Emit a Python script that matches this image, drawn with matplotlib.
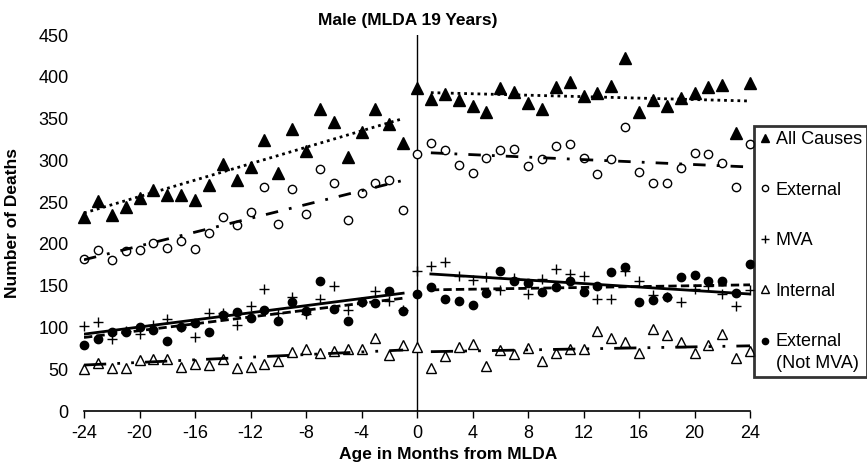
import matplotlib.pyplot as plt
import numpy as np
from matplotlib.lines import Line2D
from matplotlib.legend_handler import HandlerLine2D

plt.rcParams['font.family'] = ['Liberation Sans', 'DejaVu Sans']
plt.rcParams['axes.unicode_minus'] = False

# months from MLDA, -24..24
months = np.arange(-24, 25)

all_causes = [232, 251, 234, 244, 255, 264, 258, 258, 252, 270, 296, 276, 292,
              324, 285, 338, 311, 361, 346, 304, 334, 361, 343, 321,
              386,
              374, 379, 372, 365, 358, 386, 382, 369, 362, 388, 394, 377,
              381, 389, 423, 358, 372, 365, 375, 381, 388, 390, 333, 393]
external = [182, 193, 181, 192, 193, 201, 195, 204, 194, 213, 232, 223, 238,
            268, 224, 266, 236, 290, 273, 229, 261, 273, 276, 241,
            308,
            321, 312, 294, 285, 303, 312, 313, 293, 301, 317, 319, 303,
            284, 301, 340, 286, 273, 273, 291, 309, 308, 297, 268, 320]
mva = [102, 106, 86, 96, 92, 103, 110, 101, 88, 117, 117, 103, 126,
       146, 117, 136, 116, 134, 150, 121, 131, 144, 132, 121,
       168,
       174, 178, 162, 157, 160, 145, 159, 140, 158, 170, 164, 162,
       134, 134, 168, 156, 139, 136, 130, 146, 150, 140, 126, 145]
internal = [50, 58, 51, 51, 61, 62, 62, 53, 56, 55, 62, 52, 53,
            56, 60, 71, 74, 70, 72, 74, 74, 87, 67, 79,
            77,
            52, 66, 77, 80, 54, 73, 68, 75, 60, 70, 74, 74,
            96, 87, 82, 70, 98, 91, 82, 70, 79, 92, 64, 72]
ext_not_mva = [79, 86, 94, 95, 100, 97, 84, 100, 105, 95, 115, 119, 111,
               121, 108, 130, 120, 156, 122, 108, 130, 129, 144, 120,
               140,
               148, 134, 132, 127, 141, 168, 155, 153, 142, 148, 156, 142,
               150, 166, 172, 130, 133, 137, 160, 163, 156, 156, 141, 176]

# fitted trend values: (start, end) of each segment
pre_months = [-24, -1]
post_months = [1, 24]
all_causes_pre, all_causes_post = [237, 350], [381, 371]
external_pre, external_post = [181, 276], [309, 292]
mva_pre, mva_post = [92, 141], [164, 140]
internal_pre, internal_post = [55, 73], [71, 78]
ext_not_mva_pre, ext_not_mva_post = [88, 135], [145, 151]

series = [
    # label, values, pre trend, post trend, marker, size, filled, line style
    ('All Causes', all_causes, all_causes_pre, all_causes_post, '^', 8, True, (0, (1, 1.4))),
    ('External', external, external_pre, external_post, 'o', 6, False, (0, (4.5, 4, 1, 4))),
    ('MVA', mva, mva_pre, mva_post, '+', 7, True, '-'),
    ('Internal', internal, internal_pre, internal_post, '^', 7, False, (0, (8, 4, 1, 4, 1, 4))),
    ('External\n(Not MVA)', ext_not_mva, ext_not_mva_pre, ext_not_mva_post, 'o', 6, True, (0, (3, 1.5))),
]


class UpperMarker(HandlerLine2D):
    # put the marker next to the first line of a two-line label
    def create_artists(self, legend, orig_handle, xdescent, ydescent, width,
                       height, fontsize, trans):
        arts = super().create_artists(legend, orig_handle, xdescent, ydescent,
                                      width, height, fontsize, trans)
        for a in arts:
            a.set_ydata(np.asarray(a.get_ydata()) + 0.65 * fontsize)
        return arts


fig = plt.figure(figsize=(8.67, 4.67), dpi=100)
ax = fig.add_axes([84/867, 1 - 411/467, 666/867, 376/467])

handles = []
for label, vals, pre, post, mk, ms, filled, ls in series:
    face = 'black' if filled else 'white'
    ax.plot(months, vals, linestyle='none', marker=mk, markersize=ms,
            markerfacecolor=face, markeredgecolor='black', markeredgewidth=1,
            clip_on=False, zorder=3)
    ax.plot(pre_months, pre, color='black', linewidth=2, linestyle=ls, zorder=4)
    ax.plot(post_months, post, color='black', linewidth=2, linestyle=ls, zorder=4)
    handles.append(Line2D([], [], linestyle='none', marker=mk, markersize=ms * 0.75,
                          markerfacecolor=face, markeredgecolor='black',
                          markeredgewidth=1, label=label))

ax.axvline(0, color='black', linewidth=1)
ax.set_xlim(-24, 24)
ax.set_ylim(0, 450)
ax.set_xticks(range(-24, 25, 4))
ax.set_yticks(range(0, 451, 50))
for s in ('top', 'right', 'left'):
    ax.spines[s].set_visible(False)
ax.spines['bottom'].set_linewidth(1.2)
ax.tick_params(axis='x', direction='out', length=5, width=1, pad=5, labelsize=13)
ax.tick_params(axis='y', length=0, pad=11, labelsize=13)

fig.text(408/867, 1 - 20/467, 'Male (MLDA 19 Years)', ha='center', va='center',
         fontsize=12.5, fontweight='bold')
fig.text(448/867, 1 - 455/467, 'Age in Months from MLDA', ha='center', va='center',
         fontsize=12.5, fontweight='bold')
fig.text(13/867, 1 - 223/467, 'Number of Deaths', ha='center', va='center',
         rotation=90, fontsize=12.5, fontweight='bold')

leg = fig.legend(handles=handles, loc='upper left',
                 bbox_to_anchor=(754/867, 1 - 126/467), borderaxespad=0,
                 fontsize=13, frameon=True, fancybox=False, handlelength=0.6,
                 handletextpad=0.3, labelspacing=1.85, borderpad=0.3,
                 handler_map={handles[-1]: UpperMarker()})
for t in leg.get_texts():
    t.set_linespacing(1.35)
leg.get_frame().set_edgecolor('black')
leg.get_frame().set_linewidth(2)

fig.savefig('out.png', dpi=100)
